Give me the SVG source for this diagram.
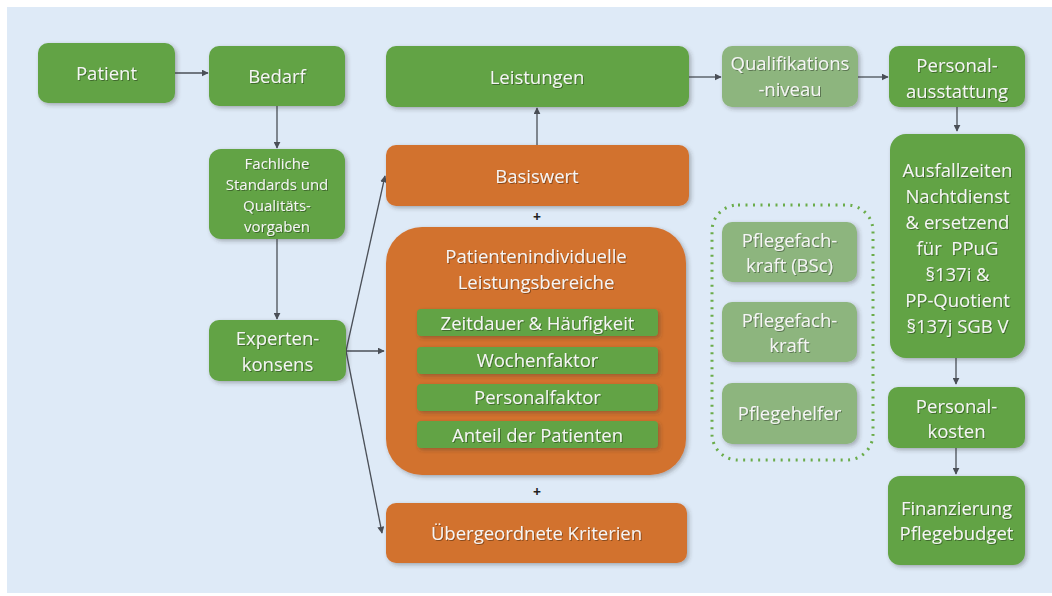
<svg xmlns="http://www.w3.org/2000/svg" width="1052" height="596" viewBox="0 0 1052 596">
<defs>
<filter id="sh" x="-10%" y="-10%" width="130%" height="130%">
<feDropShadow dx="2" dy="2" stdDeviation="2" flood-color="#333" flood-opacity="0.35"/>
</filter>
<filter id="tsh" x="-5%" y="-20%" width="110%" height="150%">
<feDropShadow dx="1" dy="1" stdDeviation="0.6" flood-color="#000" flood-opacity="0.35"/>
</filter>
<marker id="ah" viewBox="0 0 10 10" refX="9" refY="5" markerWidth="7" markerHeight="7" markerUnits="userSpaceOnUse" orient="auto">
<path d="M0,0 L10,5 L0,10 z" fill="#4a4f57"/>
</marker>
</defs>
<style>
.g{fill:#62a345;filter:url(#sh)}
.o{fill:#d2722f;filter:url(#sh)}
.lg{fill:#8db57e;filter:url(#sh)}
text{font-family:"Open Sans","Noto Sans",sans-serif;fill:#f5f5f5;text-anchor:middle;filter:url(#tsh)}
.t{font-size:18.5px}
.s{font-size:15px}
.c line{stroke:#4a4f57;stroke-width:1.3;marker-end:url(#ah)}
.plus{fill:#222;font-size:14px;font-weight:bold;filter:none}
</style>
<rect x="7" y="7" width="1045" height="586" fill="#deeaf7"/>

<g class="c" id="connectors">
<line x1="175" y1="73" x2="208" y2="73"/>
<line x1="277" y1="106" x2="277" y2="148"/>
<line x1="277" y1="239" x2="277" y2="319"/>
<line x1="346" y1="351" x2="385" y2="176"/>
<line x1="346" y1="351" x2="384" y2="351"/>
<line x1="346" y1="351" x2="382" y2="533"/>
<line x1="537" y1="145" x2="537" y2="108"/>
<line x1="689" y1="77" x2="721" y2="77"/>
<line x1="858" y1="77" x2="888" y2="77"/>
<line x1="957" y1="107" x2="957" y2="131"/>
<line x1="956" y1="358" x2="956" y2="384"/>
<line x1="956" y1="448" x2="956" y2="474"/>
</g>

<g id="patient"><rect class="g" x="38" y="43" width="137" height="60" rx="10"/><text class="t" x="106.5" y="80">Patient</text></g>
<g id="bedarf"><rect class="g" x="209" y="46" width="136" height="60" rx="10"/><text class="t" x="277" y="83">Bedarf</text></g>
<g id="fachliche"><rect class="g" x="209" y="149" width="136" height="90" rx="12"/>
<text class="s" x="277" y="169">Fachliche</text><text class="s" x="277" y="190">Standards und</text><text class="s" x="277" y="211">Qualitäts-</text><text class="s" x="277" y="232">vorgaben</text></g>
<g id="experten"><rect class="g" x="209" y="320" width="137" height="61" rx="10"/><text class="t" x="277.5" y="345">Experten-</text><text class="t" x="277.5" y="371">konsens</text></g>

<g id="leistungen"><rect class="g" x="386" y="46" width="303" height="61" rx="10"/><text class="t" x="537" y="84">Leistungen</text></g>
<g id="basiswert"><rect class="o" x="386" y="145" width="303" height="61" rx="10"/><text class="t" x="537" y="183">Basiswert</text></g>
<text class="plus" x="537" y="222">+</text>
<g id="patientenindividuelle"><rect class="o" x="386" y="227" width="300" height="248" rx="36"/>
<text class="t" x="536" y="263">Patientenindividuelle</text><text class="t" x="536" y="289">Leistungsbereiche</text>
<g id="zeitdauer"><rect class="g" x="417" y="309" width="241" height="27" rx="4"/><text class="t" x="537.5" y="330">Zeitdauer &amp; Häufigkeit</text></g>
<g id="wochenfaktor"><rect class="g" x="417" y="347" width="241" height="27" rx="4"/><text class="t" x="537.5" y="367">Wochenfaktor</text></g>
<g id="personalfaktor"><rect class="g" x="417" y="384" width="241" height="27" rx="4"/><text class="t" x="537.5" y="404">Personalfaktor</text></g>
<g id="anteil"><rect class="g" x="417" y="421" width="241" height="27" rx="4"/><text class="t" x="537.5" y="442">Anteil der Patienten</text></g>
</g>
<text class="plus" x="537" y="497">+</text>
<g id="uebergeordnete"><rect class="o" x="386" y="503" width="301" height="60" rx="10"/><text class="t" x="536.5" y="540">Übergeordnete Kriterien</text></g>

<g id="qualifikation"><rect class="lg" x="722" y="46" width="136" height="61" rx="10"/><text class="t" x="790" y="70">Qualifikations</text><text class="t" x="790" y="96">-niveau</text></g>
<g id="personalausstattung"><rect class="g" x="889" y="46" width="136" height="61" rx="10"/><text class="t" x="957" y="72">Personal-</text><text class="t" x="957" y="98">ausstattung</text></g>
<g id="ausfallzeiten"><rect class="g" x="890" y="134" width="135" height="224" rx="16"/>
<text class="t" x="957.5" y="177">Ausfallzeiten</text><text class="t" x="957.5" y="203">Nachtdienst</text><text class="t" x="957.5" y="229">&amp; ersetzend</text><text class="t" x="957.5" y="255" xml:space="preserve">für  PPuG</text><text class="t" x="957.5" y="281">§137i &amp;</text><text class="t" x="957.5" y="307">PP-Quotient</text><text class="t" x="957.5" y="333">§137j SGB V</text></g>
<g id="personalkosten"><rect class="g" x="888" y="387" width="137" height="61" rx="10"/><text class="t" x="956.5" y="413">Personal-</text><text class="t" x="956.5" y="438">kosten</text></g>
<g id="finanzierung"><rect class="g" x="888" y="476" width="137" height="89" rx="12"/><text class="t" x="956.5" y="515">Finanzierung</text><text class="t" x="956.5" y="540">Pflegebudget</text></g>

<g id="qualifikationsgruppe">
<rect x="712" y="205" width="161" height="255" rx="26" fill="none" stroke="#6aac4a" stroke-width="3" stroke-dasharray="2 5.5"/>
<g id="pfk-bsc"><rect class="lg" x="722" y="222" width="135" height="60" rx="10"/><text class="t" x="789.5" y="247">Pflegefach-</text><text class="t" x="789.5" y="272">kraft (BSc)</text></g>
<g id="pfk"><rect class="lg" x="722" y="302" width="135" height="60" rx="10"/><text class="t" x="789.5" y="327">Pflegefach-</text><text class="t" x="789.5" y="352">kraft</text></g>
<g id="pflegehelfer"><rect class="lg" x="722" y="383" width="135" height="61" rx="10"/><text class="t" x="789.5" y="420">Pflegehelfer</text></g>
</g>
</svg>
